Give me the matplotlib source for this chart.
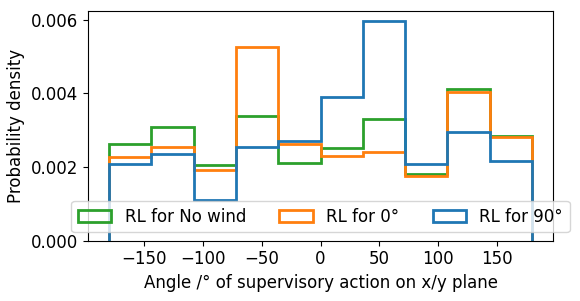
import matplotlib
matplotlib.use("Agg")
import matplotlib.pyplot as plt
import numpy as np

edges = [-180, -144, -108, -72, -36, 0, 36, 72, 108, 144, 180]
labels = ["RL for No wind", "RL for 0°", "RL for 90°"]
colors = ["#2ca02c", "#ff7f0e", "#1f77b4"]
no_wind = [0.00263, 0.00309, 0.00205, 0.00339, 0.00211, 0.00251, 0.00330, 0.00181, 0.00412, 0.00285]
deg0 = [0.00227, 0.00254, 0.00192, 0.00525, 0.00263, 0.00231, 0.00242, 0.00176, 0.00404, 0.00281]
deg90 = [0.00209, 0.00235, 0.00111, 0.00255, 0.00270, 0.00390, 0.00595, 0.00208, 0.00295, 0.00215]

plt.rcParams['font.size'] = 12
fig, ax = plt.subplots(figsize=(5.8, 3.01), dpi=100)
centers = [(edges[i] + edges[i + 1]) / 2 for i in range(len(edges) - 1)]
for vals, lab, c in zip([no_wind, deg0, deg90], labels, colors):
    ax.hist(centers, bins=edges, weights=vals, histtype='step', linewidth=2, color=c, label=lab)
ax.set_xlabel("Angle /° of supervisory action on x/y plane")
ax.set_ylabel("Probability density")
ax.set_xticks([-150, -100, -50, 0, 50, 100, 150])
ax.set_yticks([0, 0.002, 0.004, 0.006])
ax.legend(loc='lower center', ncol=3)
fig.tight_layout(pad=0.3)
fig.subplots_adjust(left=88/580, right=553/580, top=1 - 10.5/301, bottom=1 - 240.7/301)
fig.savefig("out.png", dpi=100)
